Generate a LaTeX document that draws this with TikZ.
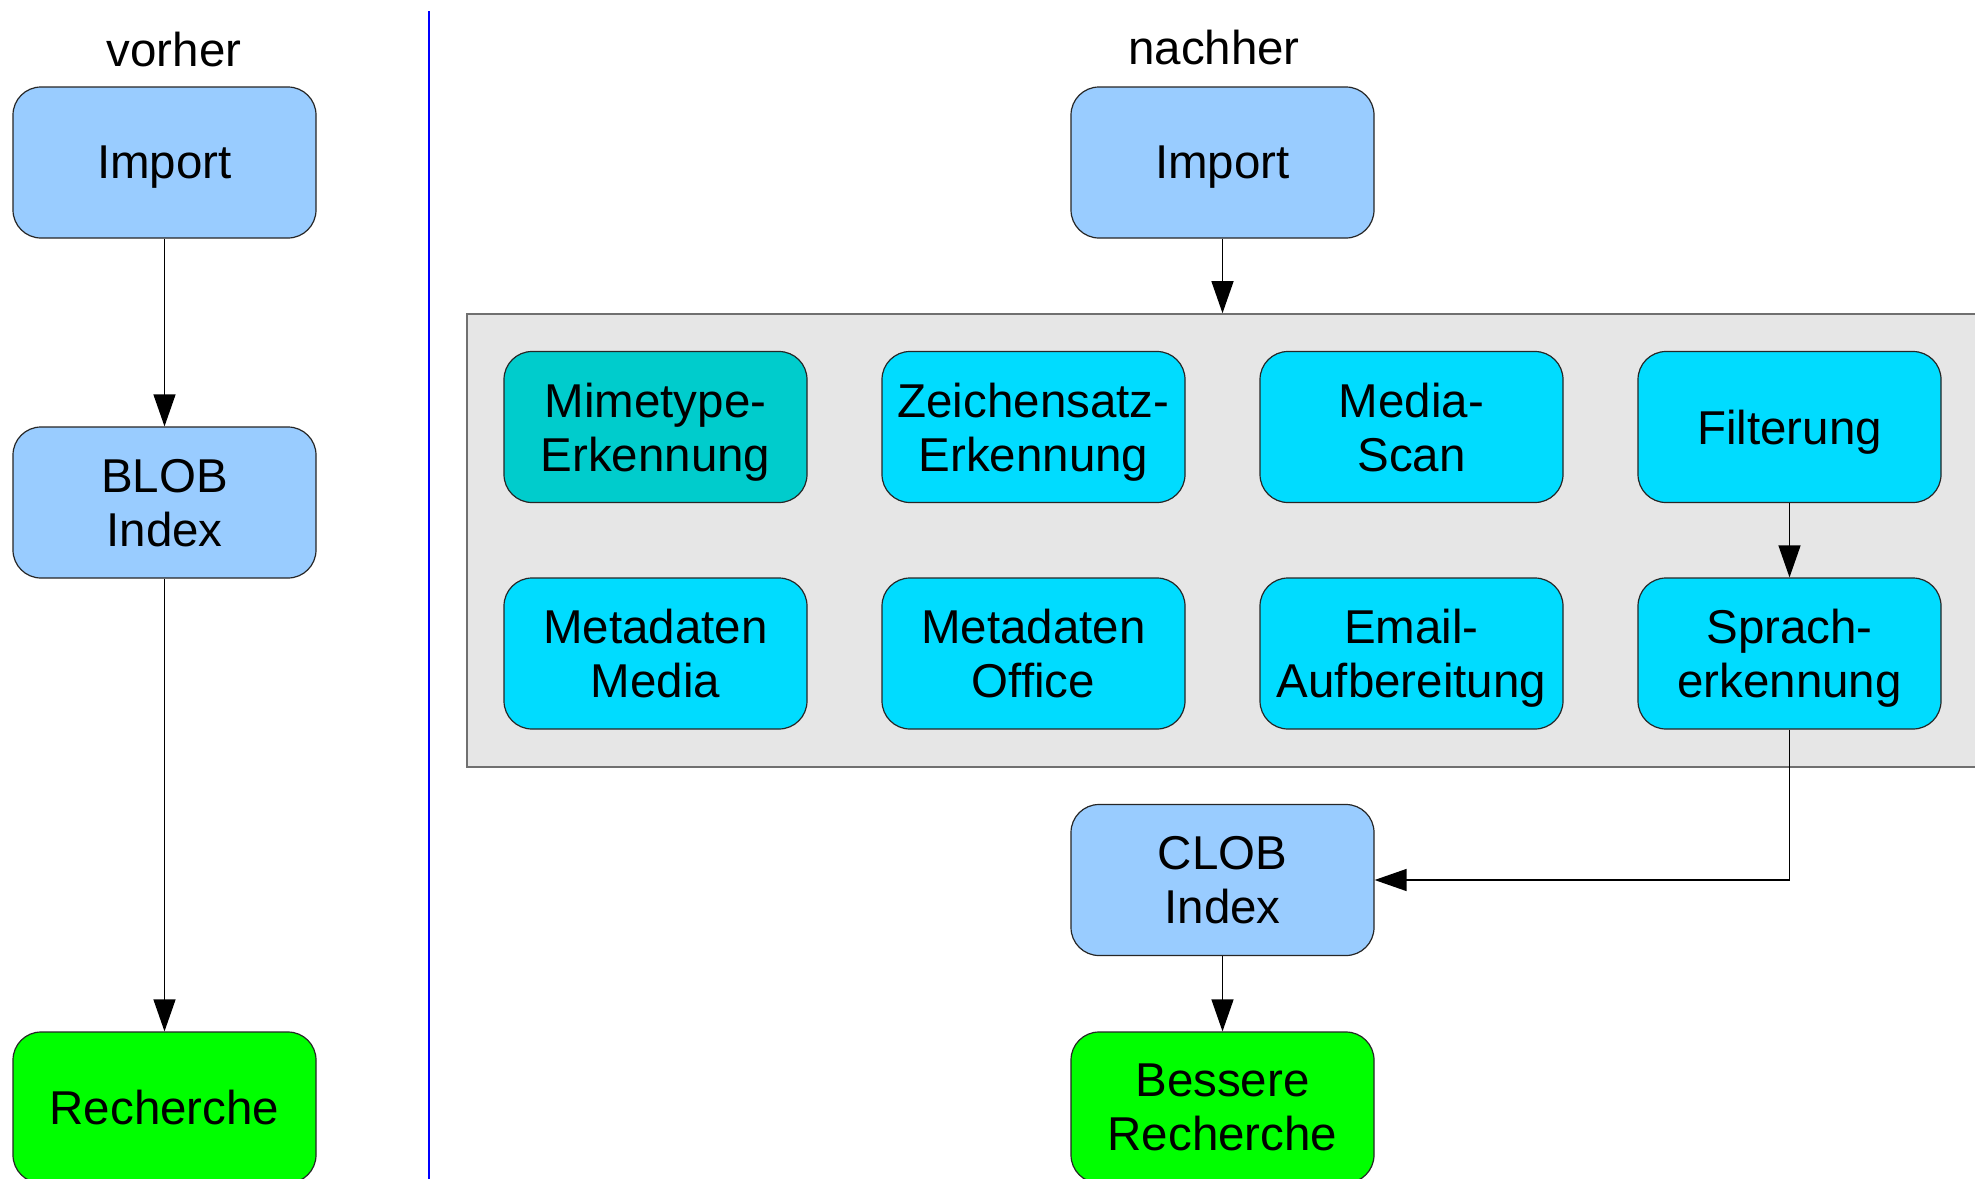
\documentclass[tikz,border=0pt]{standalone}
\usepackage{fontspec}
\setmainfont{Liberation Sans}
\usetikzlibrary{arrows.meta}
\definecolor{lightblue}{HTML}{99CCFF}
\definecolor{procblue}{HTML}{00DCFF}
\definecolor{procteal}{HTML}{00CCCC}
\definecolor{resultgreen}{HTML}{00FF00}
\definecolor{panelgray}{HTML}{E6E6E6}
\definecolor{panelborder}{HTML}{707070}
\tikzset{
  box/.style={draw=black!85, line width=1.2pt, rounded corners=28pt,
    minimum width=303pt, minimum height=151pt, inner sep=0pt,
    text depth=0pt,
    align=center, font=\fontsize{47.5}{54}\selectfont},
  stage/.style={box, fill=lightblue},
  proc/.style={box, fill=procblue},
  procdark/.style={box, fill=procteal},
  result/.style={box, fill=resultgreen},
  flow/.style={draw=black, line width=1.3pt,
    -{Triangle[length=32pt, width=22pt]}},
  heading/.style={font=\fontsize{47.5}{54}\selectfont, inner sep=0pt}
}
\begin{document}
\begin{tikzpicture}[x=1pt, y=-1pt]
  \useasboundingbox (0,0) rectangle (1975,1178);
  \clip (0,0) rectangle (1975,1178);
  \fill[white] (0,0) rectangle (1975,1178);

  % divider between the two columns
  \draw[blue, line width=1.6pt] (429,11) -- (429,1190);

  % left column: before
  \node[heading] (vorher) at (174,50) {vorher};
  \node[stage] (impA) at (164.5,162.5) {Import};
  \node[stage] (blob) at (164.5,502.5) {BLOB\\Index};
  \node[result] (rechA) at (164.5,1107.5) {Recherche};
  \draw[flow] (impA) -- (blob);
  \draw[flow] (blob) -- (rechA);

  % right column: after
  \node[heading] (nachher) at (1214,48) {nachher};
  \node[stage] (impB) at (1222.5,162.5) {Import};
  \node[draw=panelborder, fill=panelgray, line width=1.6pt,
        minimum width=1540pt, minimum height=453pt, inner sep=0pt]
        (panel) at (1237,540.5) {};

  \node[procdark] (mime) at (655.5,427) {Mimetype-\\Erkennung};
  \node[proc] (zeich) at (1033.5,427) {Zeichensatz-\\Erkennung};
  \node[proc] (media) at (1411.5,427) {Media-\\Scan};
  \node[proc] (filt) at (1789.5,427) {Filterung};
  \node[proc] (metaM) at (655.5,653.5) {Metadaten\\Media};
  \node[proc] (metaO) at (1033.5,653.5) {Metadaten\\Office};
  \node[proc] (email) at (1411.5,653.5) {Email-\\Aufbereitung};
  \node[proc] (sprach) at (1789.5,653.5) {Sprach-\\erkennung};

  \node[stage] (clob) at (1222.5,880) {CLOB\\Index};
  \node[result] (rechB) at (1222.5,1107.5) {Bessere\\Recherche};

  \draw[flow] (impB) -- (impB |- panel.north);
  \draw[flow] (filt) -- (sprach);
  \draw[flow] (sprach.south) |- (clob.east);
  \draw[flow] (clob) -- (rechB);
\end{tikzpicture}
\end{document}
